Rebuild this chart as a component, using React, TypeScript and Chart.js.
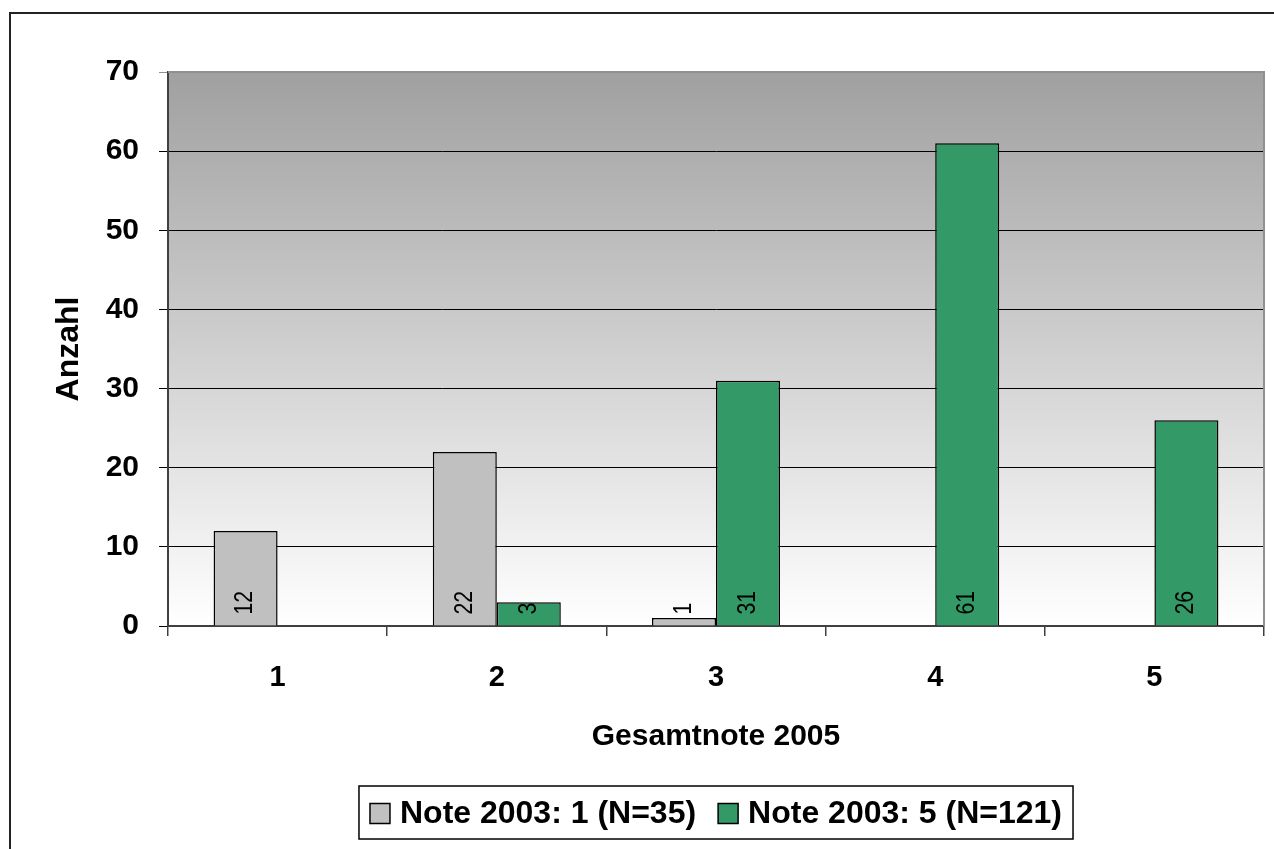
import React, { useEffect, useRef } from "react";
import { Chart, registerables } from "chart.js";

Chart.register(...registerables);

const categories = ["1", "2", "3", "4", "5"];
const seriesNames = ["Note 2003: 1 (N=35)", "Note 2003: 5 (N=121)"];
const seriesNote1 = [12, 22, 1, 0, 0];
const seriesNote5 = [0, 3, 31, 61, 26];
const seriesColors = ["#c0c0c0", "#339966"];
const yTicks = [0, 10, 20, 30, 40, 50, 60, 70];

const FONT = "'Liberation Sans', Arial, Helvetica, sans-serif";

const backgroundPlugin = {
  id: "bgGradient",
  beforeDraw(chart: any) {
    const { ctx, chartArea } = chart;
    ctx.save();
    ctx.fillStyle = "#ffffff";
    ctx.fillRect(0, 0, chart.width, chart.height);
    const g = ctx.createLinearGradient(0, chartArea.top, 0, chartArea.bottom);
    g.addColorStop(0, "#a0a0a0");
    g.addColorStop(1, "#ffffff");
    ctx.fillStyle = g;
    ctx.fillRect(chartArea.left, chartArea.top, chartArea.right - chartArea.left, chartArea.bottom - chartArea.top);
    ctx.restore();
  },
  beforeDatasetsDraw(chart: any) {
    const { ctx, chartArea } = chart;
    ctx.save();
    ctx.strokeStyle = "#909090";
    ctx.lineWidth = 2;
    ctx.beginPath();
    ctx.moveTo(chartArea.left, chartArea.top);
    ctx.lineTo(chartArea.right, chartArea.top);
    ctx.lineTo(chartArea.right, chartArea.bottom);
    ctx.stroke();
    ctx.restore();
  },
};

const barLabelPlugin = {
  id: "barLabels",
  afterDatasetsDraw(chart: any) {
    const { ctx } = chart;
    ctx.save();
    ctx.font = `25px ${FONT}`;
    ctx.fillStyle = "#000000";
    ctx.textAlign = "left";
    ctx.textBaseline = "middle";
    chart.data.datasets.forEach((ds: any, i: number) => {
      const meta = chart.getDatasetMeta(i);
      meta.data.forEach((bar: any, j: number) => {
        const v = ds.data[j];
        if (!v) return;
        ctx.save();
        ctx.translate(bar.x, bar.base - 11);
        ctx.rotate(-Math.PI / 2);
        ctx.scale(0.85, 1);
        ctx.fillText(String(v), 0, 0);
        ctx.restore();
      });
    });
    ctx.restore();
  },
};

const legendPlugin = {
  id: "boxLegend",
  afterDraw(chart: any) {
    const { ctx, chartArea } = chart;
    ctx.save();
    ctx.font = `bold 32px ${FONT}`;
    const sq = 20;
    const gapSqText = 10;
    const gapItems = 22;
    const widths = chart.data.datasets.map((d: any) => ctx.measureText(d.label).width);
    let total = 0;
    widths.forEach((w: number, i: number) => {
      total += sq + gapSqText + w + (i < widths.length - 1 ? gapItems : 0);
    });
    const padX = 11;
    const cx = (chartArea.left + chartArea.right) / 2;
    const boxLeft = cx - total / 2 - padX;
    const boxTop = chartArea.bottom + 160;
    const boxH = 53;
    ctx.strokeStyle = "#000000";
    ctx.lineWidth = 1.5;
    ctx.strokeRect(boxLeft, boxTop, total + padX * 2, boxH);
    const midY = boxTop + boxH / 2;
    let x = cx - total / 2;
    chart.data.datasets.forEach((d: any, i: number) => {
      ctx.fillStyle = d.backgroundColor;
      ctx.fillRect(x, midY - sq / 2 + 1, sq, sq);
      ctx.strokeStyle = "#000000";
      ctx.lineWidth = 1.5;
      ctx.strokeRect(x, midY - sq / 2 + 1, sq, sq);
      x += sq + gapSqText;
      ctx.fillStyle = "#000000";
      ctx.textAlign = "left";
      ctx.textBaseline = "middle";
      ctx.fillText(d.label, x, midY + 2);
      x += widths[i] + gapItems;
    });
    // outer frame
    ctx.strokeStyle = "#222222";
    ctx.lineWidth = 2;
    ctx.strokeRect(10, 13, chart.width + 20, chart.height + 20);
    ctx.restore();
  },
};

export default function App() {
  const ref = useRef<HTMLCanvasElement | null>(null);
  useEffect(() => {
    if (!ref.current) return;
    const chart = new Chart(ref.current, {
      type: "bar",
      data: {
        labels: categories,
        datasets: [
          {
            label: seriesNames[0],
            data: seriesNote1,
            backgroundColor: seriesColors[0],
            borderColor: "#000000",
            borderWidth: (c: any) => (c.raw ? 1.5 : 0),
            categoryPercentage: 0.584,
            barPercentage: 1.0,
          },
          {
            label: seriesNames[1],
            data: seriesNote5,
            backgroundColor: seriesColors[1],
            borderColor: "#000000",
            borderWidth: (c: any) => (c.raw ? 1.5 : 0),
            categoryPercentage: 0.584,
            barPercentage: 1.0,
          },
        ],
      },
      options: {
        responsive: false,
        animation: false,
        devicePixelRatio: 1,
        layout: { padding: { left: 0, right: 10, top: 72, bottom: 73 } },
        plugins: {
          legend: { display: false },
          tooltip: { enabled: false },
        },
        scales: {
          x: {
            offset: true,
            grid: {
              display: true,
              offset: true,
              drawOnChartArea: false,
              drawTicks: true,
              tickLength: 10,
              color: "#404040",
              lineWidth: 1.5,
            },
            border: { display: true, color: "#404040", width: 2 },
            ticks: {
              color: "#000000",
              font: { family: FONT, size: 29, weight: "bold" },
              padding: 25,
            },
            title: {
              display: true,
              text: "Gesamtnote 2005",
              color: "#000000",
              font: { family: FONT, size: 30, weight: "bold" },
              padding: { top: 0, bottom: 21 },
            },
            afterFit: (s: any) => {
              s.height = 150;
            },
          },
          y: {
            min: 0,
            max: 70,
            afterBuildTicks: (s: any) => {
              s.ticks = yTicks.map((v) => ({ value: v }));
            },
            grid: {
              color: (c: any) => (c.tick && c.tick.value === 70 ? "#909090" : "#000000"),
              lineWidth: 1,
              drawTicks: true,
              tickLength: 9,
            },
            border: { display: true, color: "#404040", width: 2 },
            ticks: {
              color: "#000000",
              font: { family: FONT, size: 30, weight: "bold" },
              padding: 20,
            },
            title: {
              display: true,
              text: "Anzahl",
              color: "#000000",
              font: { family: FONT, size: 32, weight: "bold" },
              padding: { top: 50, bottom: 0 },
            },
            afterFit: (s: any) => {
              s.width = 168;
            },
          },
        },
      },
      plugins: [backgroundPlugin, barLabelPlugin, legendPlugin],
    } as any);
    return () => chart.destroy();
  }, []);
  return (
    <div style={{ position: "absolute", left: 0, top: 0, width: 1274, height: 849 }}>
      <canvas ref={ref} width={1274} height={849} style={{ display: "block" }} />
    </div>
  );
}
